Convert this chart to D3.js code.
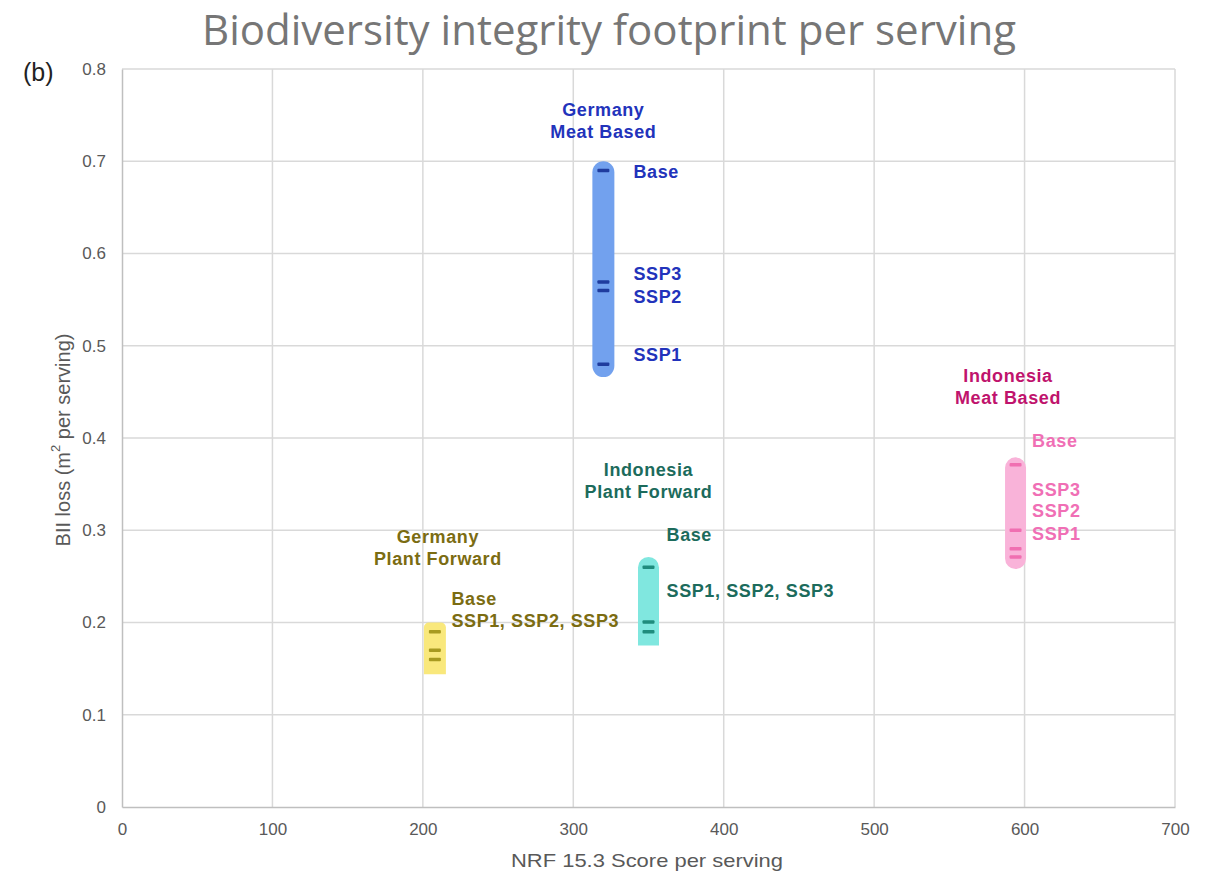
<!DOCTYPE html>
<html>
<head>
<meta charset="utf-8">
<script src="https://cdn.jsdelivr.net/npm/d3@7"></script>
<style>
  html, body { margin: 0; padding: 0; background: #fff; }
  svg { display: block; }
</style>
</head>
<body>
<svg id="chart" width="1214" height="875"></svg>
<script>
// Diet groups: NRF 15.3 score (x) and BII loss per serving (y)
const groups = ["Germany Meat Based", "Indonesia Meat Based", "Indonesia Plant Forward", "Germany Plant Forward"];
const groupTitles = [["Germany", "Meat Based"], ["Indonesia", "Meat Based"], ["Indonesia", "Plant Forward"], ["Germany", "Plant Forward"]];
const nrfScore = [320, 594, 350, 208];
const rangeLow = [0.466, 0.258, 0.175, 0.144];
const rangeHigh = [0.700, 0.379, 0.271, 0.200];
// scenario values per group (Base, SSP3, SSP2, SSP1 / Base, SSP1-3)
const scenarioValues = [
  [0.690, 0.569, 0.560, 0.480],
  [0.371, 0.300, 0.280, 0.271],
  [0.260, 0.2005, 0.190],
  [0.190, 0.170, 0.160]
];
const scenarioLabels = [
  ["Base", "SSP3", "SSP2", "SSP1"],
  ["Base", "SSP3", "SSP2", "SSP1"],
  ["Base", "SSP1, SSP2, SSP3"],
  ["Base", "SSP1, SSP2, SSP3"]
];
// annotation anchors in data units
const titleAnchorX = [320, 589, 350, 210];
const titleAnchorY = [0.7556, 0.467, 0.365, 0.293];
const labelAnchorX = [340, 605, 362, 219];
const labelAnchorY = [
  [0.688, 0.578, 0.553, 0.490],
  [0.397, 0.344, 0.321, 0.296],
  [0.295, 0.234],
  [0.2255, 0.2016]
];
const xTicks = [0, 100, 200, 300, 400, 500, 600, 700];
const yTicks = [0, 0.1, 0.2, 0.3, 0.4, 0.5, 0.6, 0.7, 0.8];

// styling per group
const barFill = ["#72a1ee", "#f9b3d9", "#80e7df", "#f9e87c"];
const markFill = ["#1f3c9e", "#f06fb1", "#1f8c7d", "#a89a20"];
const titleColor = ["#2233bb", "#c0136d", "#1c6b5c", "#7b6c12"];
const labelColor = ["#2233bb", "#f06fb5", "#1c6b5c", "#7b6c12"];
const barWidth = [22, 21, 21, 22];
const topRadius = [11, 10.5, 10.5, 5];
const bottomRadius = [11, 10.5, 0, 0];

const svg = d3.select("#chart");
const m = { left: 122, right: 1175, top: 69, bottom: 807 };

const x = d3.scaleLinear().domain([0, 700]).range([m.left, m.right]);
const y = d3.scaleLinear().domain([0, 0.8]).range([m.bottom, m.top]);

// gridlines
svg.append("g").selectAll("line.v").data(xTicks.slice(1)).join("line")
  .attr("x1", d => x(d)).attr("x2", d => x(d))
  .attr("y1", m.top).attr("y2", m.bottom)
  .attr("stroke", "#d9d9d9").attr("stroke-width", 1.5);
svg.append("g").selectAll("line.h").data(yTicks.slice(1)).join("line")
  .attr("x1", m.left).attr("x2", m.right)
  .attr("y1", d => y(d)).attr("y2", d => y(d))
  .attr("stroke", "#d9d9d9").attr("stroke-width", 1.5);

// axes
const xAxis = d3.axisBottom(x).tickValues(xTicks).tickSize(0).tickPadding(16).tickFormat(d3.format("d"));
const gx = svg.append("g").attr("transform", `translate(0,${m.bottom})`).call(xAxis);
gx.select(".domain").attr("stroke", "#bfbfbf").attr("stroke-width", 1.5);
gx.selectAll("text").attr("fill", "#595959").attr("font-family", "Liberation Sans, Arial, sans-serif").attr("font-size", 17);

const yAxis = d3.axisLeft(y).tickValues(yTicks).tickSize(0).tickPadding(16)
  .tickFormat(d => d === 0 ? "0" : d3.format(".1f")(d));
const gy = svg.append("g").attr("transform", `translate(${m.left},0)`).call(yAxis);
gy.select(".domain").attr("stroke", "#bfbfbf").attr("stroke-width", 1.5);
gy.selectAll("text").attr("fill", "#595959").attr("font-family", "Liberation Sans, Arial, sans-serif").attr("font-size", 17);

// range bars with rounded ends
function barPath(cx, y0, y1, w, rt, rb) {
  const l = cx - w / 2, r = cx + w / 2;
  const p = d3.path();
  p.moveTo(l, y1 - rb);
  p.lineTo(l, y0 + rt);
  if (rt > 0) p.arcTo(l, y0, l + rt, y0, rt);
  p.lineTo(r - rt, y0);
  if (rt > 0) p.arcTo(r, y0, r, y0 + rt, rt);
  p.lineTo(r, y1 - rb);
  if (rb > 0) p.arcTo(r, y1, r - rb, y1, rb);
  p.lineTo(l + rb, y1);
  if (rb > 0) p.arcTo(l, y1, l, y1 - rb, rb);
  p.closePath();
  return p.toString();
}

groups.forEach((g, i) => {
  const cx = x(nrfScore[i]);
  svg.append("path")
    .attr("d", barPath(cx, y(rangeHigh[i]), y(rangeLow[i]), barWidth[i], topRadius[i], bottomRadius[i]))
    .attr("fill", barFill[i]);

  svg.append("g").selectAll("rect").data(scenarioValues[i]).join("rect")
    .attr("x", cx - 6).attr("width", 12)
    .attr("y", d => y(d) - 1.75).attr("height", 3.5)
    .attr("rx", 1)
    .attr("fill", markFill[i]);

  const t = svg.append("text")
    .attr("x", x(titleAnchorX[i])).attr("y", y(titleAnchorY[i]))
    .attr("text-anchor", "middle").attr("dominant-baseline", "central")
    .attr("font-family", "Liberation Sans, Arial, sans-serif").attr("font-weight", "bold")
    .attr("font-size", 18).attr("letter-spacing", 0.6)
    .attr("fill", titleColor[i]);
  groupTitles[i].forEach((line, k) => {
    t.append("tspan").attr("x", x(titleAnchorX[i])).attr("dy", k === 0 ? 0 : 22).text(line);
  });

  svg.append("g").selectAll("text").data(scenarioLabels[i]).join("text")
    .attr("x", x(labelAnchorX[i]))
    .attr("y", (d, k) => y(labelAnchorY[i][k]))
    .attr("dominant-baseline", "central")
    .attr("font-family", "Liberation Sans, Arial, sans-serif").attr("font-weight", "bold")
    .attr("font-size", 18).attr("letter-spacing", 0.6)
    .attr("fill", labelColor[i])
    .text(d => d);
});

// titles
svg.append("text")
  .attr("x", 609).attr("y", 28)
  .attr("text-anchor", "middle").attr("dominant-baseline", "central")
  .attr("font-family", "Open Sans, Noto Sans, sans-serif").attr("font-size", 42)
  .attr("fill", "#767676")
  .text("Biodiversity integrity footprint per serving");

svg.append("text")
  .attr("x", 647).attr("y", 860)
  .attr("text-anchor", "middle").attr("dominant-baseline", "central")
  .attr("font-family", "Liberation Sans, Arial, sans-serif").attr("font-size", 19)
  .attr("fill", "#595959")
  .attr("textLength", 272).attr("lengthAdjust", "spacingAndGlyphs")
  .text("NRF 15.3 Score per serving");

const yl = svg.append("text")
  .attr("transform", "translate(63,440) rotate(-90)")
  .attr("text-anchor", "middle").attr("dominant-baseline", "central")
  .attr("font-family", "Liberation Sans, Arial, sans-serif").attr("font-size", 20)
  .attr("fill", "#595959");
yl.append("tspan").text("BII loss (m");
yl.append("tspan").attr("font-size", 13).attr("dy", -8).text("2");
yl.append("tspan").attr("dy", 8).text(" per serving)");

svg.append("text")
  .attr("x", 23).attr("y", 72)
  .attr("dominant-baseline", "central")
  .attr("font-family", "Liberation Sans, Arial, sans-serif").attr("font-size", 25)
  .attr("fill", "#222")
  .text("(b)");
</script>
</body>
</html>
